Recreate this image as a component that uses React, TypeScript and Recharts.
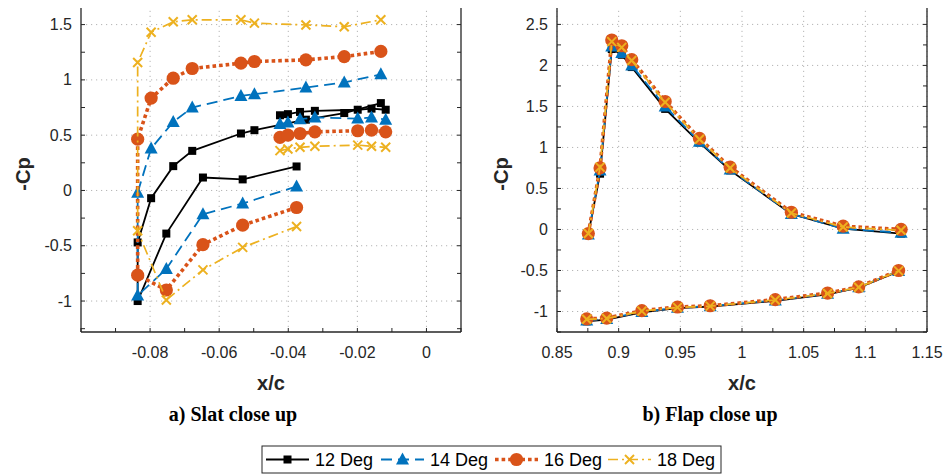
import React from 'react';
import { ScatterChart, Scatter, XAxis, YAxis, ReferenceLine } from 'recharts';

// ---- slat close up (left panel) ----
// main polyline = lower surface (cove -> nose), two nose taps, upper surface (nose -> TE)
const slatLowerX = [-0.0376, -0.0532, -0.0647, -0.0753];
const slatNoseX = [-0.0836, -0.0836];
const slatUpperX = [-0.0797, -0.0733, -0.0678, -0.0537, -0.0498, -0.0349, -0.0238, -0.0132];
const slatCoveX = [-0.0424, -0.0401, -0.0366, -0.0323, -0.0199, -0.0159, -0.0118];

const slat12 = [0.217, 0.1, 0.117, -0.39, -1.0, -0.47, -0.07, 0.22, 0.358, 0.515, 0.545, 0.64, 0.7, 0.79];
const slat14 = [0.036, -0.118, -0.215, -0.71, -0.95, -0.02, 0.38, 0.62, 0.75, 0.855, 0.87, 0.93, 0.977, 1.05];
const slat16 = [-0.154, -0.314, -0.49, -0.9, -0.766, 0.464, 0.835, 1.015, 1.103, 1.151, 1.166, 1.181, 1.211, 1.257];
const slat18 = [-0.326, -0.515, -0.718, -0.99, -0.365, 1.157, 1.43, 1.525, 1.543, 1.543, 1.513, 1.497, 1.48, 1.543];

const cove12 = [0.68, 0.69, 0.71, 0.72, 0.73, 0.74, 0.73];
const cove14 = [0.6, 0.615, 0.645, 0.66, 0.65, 0.66, 0.64];
const cove16 = [0.48, 0.5, 0.515, 0.53, 0.54, 0.545, 0.53];
const cove18 = [0.36, 0.375, 0.39, 0.4, 0.41, 0.4, 0.39];

// ---- flap close up (right panel) ----
const flapUpperX = [0.8754, 0.8849, 0.8944, 0.9025, 0.9106, 0.9377, 0.9655, 0.9904, 1.04, 1.082, 1.129];
const flapLowerX = [0.8741, 0.8903, 0.9188, 0.9477, 0.9742, 1.027, 1.0694, 1.0946, 1.127];

const flapUp12 = [-0.06, 0.68, 2.2, 2.13, 1.98, 1.47, 1.06, 0.72, 0.19, 0.01, -0.05];
const flapUp14 = [-0.06, 0.72, 2.23, 2.15, 2.0, 1.5, 1.07, 0.73, 0.19, 0.01, -0.04];
const flapUp16 = [-0.05, 0.75, 2.31, 2.24, 2.07, 1.56, 1.11, 0.76, 0.21, 0.04, 0.0];
const flapUp18 = [-0.05, 0.76, 2.29, 2.22, 2.06, 1.55, 1.1, 0.75, 0.2, 0.03, -0.01];

const flapLo12 = [-1.12, -1.1, -1.01, -0.96, -0.94, -0.87, -0.79, -0.71, -0.51];
const flapLo14 = [-1.11, -1.09, -1.005, -0.955, -0.935, -0.865, -0.785, -0.705, -0.505];
const flapLo16 = [-1.09, -1.08, -0.99, -0.945, -0.93, -0.855, -0.775, -0.7, -0.5];
const flapLo18 = [-1.095, -1.085, -0.995, -0.95, -0.935, -0.86, -0.78, -0.705, -0.505];

// ---- ticks ----
const slatXTicks = [-0.1, -0.09, -0.08, -0.07, -0.06, -0.05, -0.04, -0.03, -0.02, -0.01, 0, 0.01];
const slatXLabels = [-0.08, -0.06, -0.04, -0.02, 0];
const slatYTicks = [-1.25, -1, -0.75, -0.5, -0.25, 0, 0.25, 0.5, 0.75, 1, 1.25, 1.5];
const slatYLabels = [-1, -0.5, 0, 0.5, 1, 1.5];
const flapXTicks = [0.85, 0.875, 0.9, 0.925, 0.95, 0.975, 1, 1.025, 1.05, 1.075, 1.1, 1.125, 1.15];
const flapXLabels = [0.85, 0.9, 0.95, 1, 1.05, 1.1, 1.15];
const flapYTicks = [-1.25, -1, -0.75, -0.5, -0.25, 0, 0.25, 0.5, 0.75, 1, 1.25, 1.5, 1.75, 2, 2.25, 2.5];
const flapYLabels = [-1, -0.5, 0, 0.5, 1, 1.5, 2, 2.5];

const AXIS = '#262626';
const FONT = '"Liberation Sans", Arial, Helvetica, sans-serif';
const TICK = 4;

const zip = (xs: number[], ys: number[]) => xs.map((x, i) => ({ x, y: ys[i] }));
const isMajor = (v: number, majors: number[]) => majors.some((m) => Math.abs(m - v) < 1e-9);
const fmt = (v: number) => String(parseFloat(v.toFixed(3)));

const Square = (p: any) => <rect x={p.cx - 4} y={p.cy - 4} width={8} height={8} fill="#000" />;
const Triangle = (p: any) => (
  <polygon points={`${p.cx},${p.cy - 7} ${p.cx - 6.5},${p.cy + 5} ${p.cx + 6.5},${p.cy + 5}`} fill="#0072BD" />
);
const Circle = (p: any) => <circle cx={p.cx} cy={p.cy} r={6.6} fill="#D95319" />;
const Cross = (p: any) => (
  <g stroke="#EDB120" strokeWidth={2}>
    <line x1={p.cx - 4.5} y1={p.cy - 4.5} x2={p.cx + 4.5} y2={p.cy + 4.5} />
    <line x1={p.cx - 4.5} y1={p.cy + 4.5} x2={p.cx + 4.5} y2={p.cy - 4.5} />
  </g>
);

const SERIES = [
  { name: '12 Deg', color: '#000000', width: 1.8, dash: undefined, shape: Square },
  { name: '14 Deg', color: '#0072BD', width: 1.8, dash: '11 6', shape: Triangle },
  { name: '16 Deg', color: '#D95319', width: 3.6, dash: '3.6 3', shape: Circle },
  { name: '18 Deg', color: '#EDB120', width: 1.7, dash: '10 4 2 4', shape: Cross },
];

const bottomTick = (majors: number[]) => (p: any) => {
  const v = p.payload.value;
  return (
    <g>
      <line x1={p.x} x2={p.x} y1={p.y} y2={p.y - TICK} stroke={AXIS} />
      {isMajor(v, majors) && (
        <text x={p.x} y={p.y + 26} textAnchor="middle" fontSize={16} fontFamily={FONT} fill={AXIS}>
          {fmt(v)}
        </text>
      )}
    </g>
  );
};
const leftTick = (majors: number[]) => (p: any) => {
  const v = p.payload.value;
  return (
    <g>
      <line x1={p.x} x2={p.x + TICK} y1={p.y} y2={p.y} stroke={AXIS} />
      {isMajor(v, majors) && (
        <text x={p.x - 9} y={p.y + 5.5} textAnchor="end" fontSize={16} fontFamily={FONT} fill={AXIS}>
          {fmt(v)}
        </text>
      )}
    </g>
  );
};
const topTick = (p: any) => <line x1={p.x} x2={p.x} y1={p.y} y2={p.y + TICK} stroke={AXIS} />;
const rightTick = (p: any) => <line x1={p.x} x2={p.x - TICK} y1={p.y} y2={p.y} stroke={AXIS} />;

interface PanelProps {
  width: number;
  leftW: number;
  rightW: number;
  xDomain: [number, number];
  yDomain: [number, number];
  xTicks: number[];
  xLabels: number[];
  yTicks: number[];
  yLabels: number[];
  groups: { x: number[]; ys: number[][] }[];
}

const Panel: React.FC<PanelProps> = ({ width, leftW, rightW, xDomain, yDomain, xTicks, xLabels, yTicks, yLabels, groups }) => (
  <ScatterChart width={width} height={380} margin={{ top: 8, right: 0, bottom: 0, left: 0 }}>
    <XAxis
      type="number"
      dataKey="x"
      domain={xDomain}
      allowDataOverflow
      ticks={xTicks}
      interval={0}
      height={48}
      tickSize={0}
      tickMargin={0}
      tickLine={false}
      tick={bottomTick(xLabels)}
      axisLine={{ stroke: AXIS, strokeWidth: 1.3 }}
    />
    <XAxis
      xAxisId="top"
      orientation="top"
      type="number"
      domain={xDomain}
      allowDataOverflow
      ticks={xTicks}
      interval={0}
      height={0}
      tickSize={0}
      tickMargin={0}
      tickLine={false}
      tick={topTick}
      axisLine={{ stroke: AXIS, strokeWidth: 1.3 }}
    />
    <YAxis
      type="number"
      dataKey="y"
      domain={yDomain}
      allowDataOverflow
      ticks={yTicks}
      interval={0}
      width={leftW}
      tickSize={0}
      tickMargin={0}
      tickLine={false}
      tick={leftTick(yLabels)}
      axisLine={{ stroke: AXIS, strokeWidth: 1.3 }}
    />
    <YAxis
      yAxisId="right"
      orientation="right"
      type="number"
      domain={yDomain}
      allowDataOverflow
      ticks={yTicks}
      interval={0}
      width={rightW}
      tickSize={0}
      tickMargin={0}
      tickLine={false}
      tick={rightTick}
      axisLine={{ stroke: AXIS, strokeWidth: 1.3 }}
    />
    {xLabels.map((v) => (
      <ReferenceLine key={`gx${v}`} x={v} stroke="#b5b5b5" strokeDasharray="1.2 3.8" />
    ))}
    {yLabels.map((v) => (
      <ReferenceLine key={`gy${v}`} y={v} stroke="#b5b5b5" strokeDasharray="1.2 3.8" />
    ))}
    {SERIES.map((s, si) =>
      groups.map((g, gi) => (
        <Scatter
          key={`${s.name}-${gi}`}
          name={s.name}
          data={zip(g.x, g.ys[si])}
          fill={s.color}
          line={{ stroke: s.color, strokeWidth: s.width, strokeDasharray: s.dash }}
          lineType="joint"
          shape={s.shape}
          isAnimationActive={false}
        />
      ))
    )}
  </ScatterChart>
);

const slatMainX = [...slatLowerX, ...slatNoseX, ...slatUpperX];

export default function App() {
  const legendX = [266, 381, 495, 608];
  return (
    <div style={{ position: 'absolute', left: 0, top: 0, width: 943, height: 476, background: '#fff' }}>
      <div style={{ position: 'absolute', left: 0, top: 0 }}>
        <Panel
          width={470}
          leftW={81}
          rightW={9}
          xDomain={[-0.1, 0.01]}
          yDomain={[-1.28, 1.65]}
          xTicks={slatXTicks}
          xLabels={slatXLabels}
          yTicks={slatYTicks}
          yLabels={slatYLabels}
          groups={[
            { x: slatMainX, ys: [slat12, slat14, slat16, slat18] },
            { x: slatCoveX, ys: [cove12, cove14, cove16, cove18] },
          ]}
        />
      </div>
      <div style={{ position: 'absolute', left: 480, top: 0 }}>
        <Panel
          width={463}
          leftW={77}
          rightW={16}
          xDomain={[0.85, 1.15]}
          yDomain={[-1.25, 2.7]}
          xTicks={flapXTicks}
          xLabels={flapXLabels}
          yTicks={flapYTicks}
          yLabels={flapYLabels}
          groups={[
            { x: flapUpperX, ys: [flapUp12, flapUp14, flapUp16, flapUp18] },
            { x: flapLowerX, ys: [flapLo12, flapLo14, flapLo16, flapLo18] },
          ]}
        />
      </div>
      <svg width={943} height={476} style={{ position: 'absolute', left: 0, top: 0, pointerEvents: 'none' }}>
        <g fontFamily={FONT} fontWeight="bold" fontSize={20} fill={AXIS} textAnchor="middle">
          <text x={271} y={390}>x/c</text>
          <text x={742} y={390}>x/c</text>
          <text transform="translate(30,174) rotate(-90)">-Cp</text>
          <text transform="translate(508,174) rotate(-90)">-Cp</text>
        </g>
        <g fontFamily={'"Liberation Serif", "Times New Roman", serif'} fontWeight="bold" fontSize={20} fill="#000" textAnchor="middle">
          <text x={233} y={421}>a) Slat close up</text>
          <text x={710} y={421}>b) Flap close up</text>
        </g>
        <rect x={262} y={446} width={459} height={27} fill="#fff" stroke={AXIS} strokeWidth={1} />
        {SERIES.map((s, i) => {
          const x0 = legendX[i];
          const Shape = s.shape;
          return (
            <g key={s.name}>
              <line x1={x0} x2={x0 + 43} y1={459.5} y2={459.5} stroke={s.color} strokeWidth={s.width} strokeDasharray={s.dash} />
              <Shape cx={x0 + 21.5} cy={459.5} />
              <text x={x0 + 49} y={466} fontFamily={FONT} fontSize={18} fill="#000">
                {s.name}
              </text>
            </g>
          );
        })}
      </svg>
    </div>
  );
}
